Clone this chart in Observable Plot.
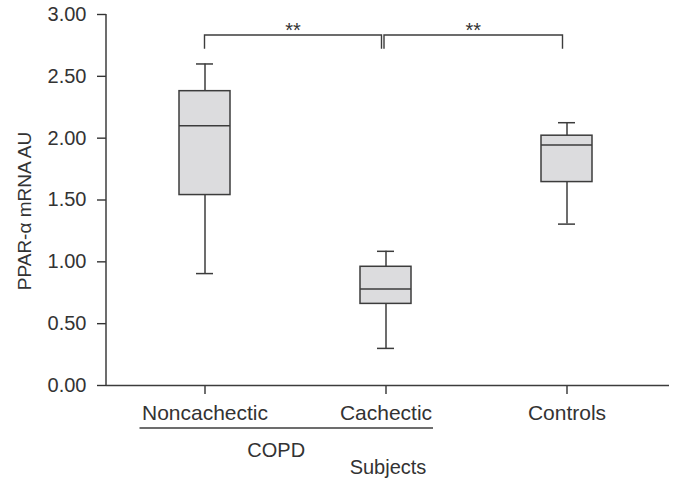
<!DOCTYPE html>
<html><head><meta charset="utf-8">
<script src="https://cdn.jsdelivr.net/npm/d3@7"></script>
<script src="https://cdn.jsdelivr.net/npm/@observablehq/plot@0.6"></script>
<style>
html,body{margin:0;padding:0;background:#fff;}
#chart svg{font-family:"Liberation Sans", Arial, Helvetica, sans-serif;}
</style></head><body><div id="chart"></div>
<script>
// ---- data ----
const groups      = ["Noncachectic", "Cachectic", "Controls"];
const whiskerHigh = [2.60, 1.085, 2.125];
const upperQ      = [2.38, 0.96, 2.02];
const medians     = [2.10, 0.78, 1.945];
const lowerQ      = [1.54, 0.66, 1.645];
const whiskerLow  = [0.905, 0.30, 1.305];
const yTicks      = [0, 0.5, 1, 1.5, 2, 2.5, 3];
const comparisons = [
  {from: "Noncachectic", to: "Cachectic", label: "**"},
  {from: "Cachectic", to: "Controls", label: "**"}
];
const bracketTop = 2.83, bracketArm = 2.72;
const groupSpan = {text: "COPD", from: "Noncachectic", to: "Cachectic"};
const xTitle = "Subjects";
const yTitle = "PPAR-\u03b1 mRNA AU";

const rows = groups.map((g, i) => ({
  group: g, hi: whiskerHigh[i], q3: upperQ[i], med: medians[i], q1: lowerQ[i], lo: whiskerLow[i]
}));

const ink = "#333", line = "#3c3c3c", fill = "#dcdcde";
const fmt = d3.format(".2f");

const plot = Plot.plot({
  width: 677, height: 487,
  marginLeft: 106, marginRight: 8, marginTop: 14, marginBottom: 102,
  style: {fontFamily: '"Liberation Sans", Arial, sans-serif', fontSize: "20px", color: ink, background: "#fff", overflow: "visible"},
  x: {type: "band", domain: groups, range: [106, 666], paddingInner: 0.717, paddingOuter: 0.397, label: null},
  y: {domain: [0, 3], label: null},
  marks: [
    Plot.axisY({ticks: yTicks, tickFormat: fmt, tickSize: 9, tickPadding: 11, fontSize: 20, label: null, strokeWidth: 1.4}),
    Plot.axisX({tickSize: 9, tickPadding: 11, fontSize: 21, label: null, strokeWidth: 1.4}),
    Plot.ruleY([0], {stroke: line, strokeWidth: 1.5}),
    Plot.ruleX(rows, {x: "group", y1: "lo", y2: "q1", stroke: line, strokeWidth: 1.5}),
    Plot.ruleX(rows, {x: "group", y1: "q3", y2: "hi", stroke: line, strokeWidth: 1.5}),
    Plot.tickY(rows, {x: "group", y: "hi", insetLeft: 17, insetRight: 17, stroke: line, strokeWidth: 1.5}),
    Plot.tickY(rows, {x: "group", y: "lo", insetLeft: 17, insetRight: 17, stroke: line, strokeWidth: 1.5}),
    Plot.barY(rows, {x: "group", y1: "q1", y2: "q3", fill: fill, stroke: line, strokeWidth: 1.5}),
    Plot.tickY(rows, {x: "group", y: "med", stroke: line, strokeWidth: 1.5}),
    Plot.text([yTitle], {frameAnchor: "left", textAnchor: "middle", lineAnchor: "middle", rotate: -90, dx: -82, dy: 11, fontSize: 19, fill: ink}),
    Plot.text([xTitle], {frameAnchor: "bottom", dy: 88.5, fontSize: 20, fill: ink})
  ]
});
document.getElementById("chart").appendChild(plot);

// ---- annotations positioned through Plot's own scales ----
const svg = d3.select(plot);
const xs = plot.scale("x"), ys = plot.scale("y");
const cx = g => xs.apply(g) + xs.bandwidth / 2;

// y axis line
svg.append("line")
  .attr("x1", 106).attr("x2", 106)
  .attr("y1", ys.apply(0)).attr("y2", ys.apply(3))
  .attr("stroke", line).attr("stroke-width", 1.5);

// significance brackets
const ends = [[0, -4], [-1.5, -4]];
comparisons.forEach((c, i) => {
  const x1 = cx(c.from) + ends[i][0], x2 = cx(c.to) + ends[i][1];
  svg.append("path")
    .attr("d", `M${x1},${ys.apply(bracketArm)}V${ys.apply(bracketTop)}H${x2}V${ys.apply(bracketArm)}`)
    .attr("fill", "none").attr("stroke", line).attr("stroke-width", 1.4);
  svg.append("text")
    .attr("x", (x1 + x2) / 2).attr("y", ys.apply(bracketTop) + 1.5)
    .attr("text-anchor", "middle").attr("font-size", 20).attr("fill", ink)
    .text(c.label);
});

// group span line + label under the x tick labels
const base = ys.apply(0);
const xa = cx(groupSpan.from) - 65, xb = cx(groupSpan.to) + 47.5;
svg.append("line")
  .attr("x1", xa).attr("x2", xb).attr("y1", base + 43).attr("y2", base + 43)
  .attr("stroke", line).attr("stroke-width", 1.5);
svg.append("text")
  .attr("x", (xa + xb) / 2 - 10).attr("y", base + 72)
  .attr("text-anchor", "middle").attr("font-size", 20).attr("fill", ink)
  .text(groupSpan.text);
</script></body></html>
